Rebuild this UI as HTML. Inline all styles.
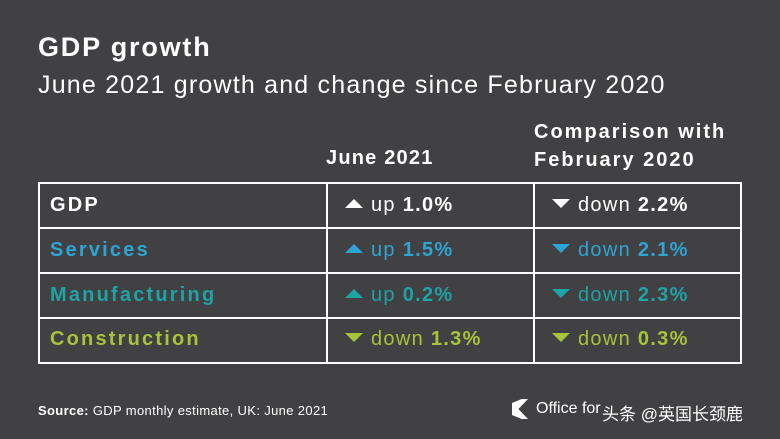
<!DOCTYPE html>
<html><head><meta charset="utf-8"><style>
body{margin:0;width:780px;height:439px;background:#414042;position:relative;overflow:hidden;font-family:"Liberation Sans","Noto Sans CJK SC",sans-serif;color:#fff}
.a{position:absolute;white-space:nowrap}
.t{font-weight:bold}
.l{position:absolute;background:#fff}
.c{font-size:20px}
.lab{letter-spacing:2.2px}
.v{letter-spacing:1.3px}
.b{font-weight:bold}
.w{color:#fff}.s{color:#2ea4d4}.m{color:#1ea3a6}.k{color:#a6c33b}
.tri{display:inline-block;width:0;height:0;border-left:9px solid transparent;border-right:9px solid transparent;margin-right:8px;vertical-align:middle;position:relative;top:-2px}
.up{border-bottom:9px solid currentColor}
.dn{border-top:9px solid currentColor}
</style></head><body>
<div class="a t" style="left:38px;top:32px;font-size:27px;letter-spacing:1.8px">GDP growth</div>
<div class="a" style="left:38px;top:71px;font-size:25px;letter-spacing:1.2px">June 2021 growth and change since February 2020</div>
<div class="a t" style="left:326px;top:147px;font-size:20px;letter-spacing:1.2px">June 2021</div>
<div class="a t" style="left:534px;top:118px;font-size:20px;line-height:28px;letter-spacing:2px">Comparison with<br>February 2020</div>
<div class="l" style="left:38px;top:182px;width:704px;height:2px"></div>
<div class="l" style="left:38px;top:227px;width:704px;height:2px"></div>
<div class="l" style="left:38px;top:272px;width:704px;height:2px"></div>
<div class="l" style="left:38px;top:317px;width:704px;height:2px"></div>
<div class="l" style="left:38px;top:362px;width:704px;height:2px"></div>
<div class="l" style="left:38px;top:182px;width:2px;height:182px"></div>
<div class="l" style="left:326px;top:182px;width:2px;height:182px"></div>
<div class="l" style="left:533px;top:182px;width:2px;height:182px"></div>
<div class="l" style="left:740px;top:182px;width:2px;height:182px"></div>

<div class="a c b w lab" style="left:50px;top:194px">GDP</div>
<div class="a c b s lab" style="left:50px;top:239px">Services</div>
<div class="a c b m lab" style="left:50px;top:284px">Manufacturing</div>
<div class="a c b k lab" style="left:50px;top:328px">Construction</div>

<div class="a c w v" style="left:345px;top:194px"><span class="tri up"></span>up <b>1.0%</b></div>
<div class="a c s v" style="left:345px;top:239px"><span class="tri up"></span>up <b>1.5%</b></div>
<div class="a c m v" style="left:345px;top:284px"><span class="tri up"></span>up <b>0.2%</b></div>
<div class="a c k v" style="left:345px;top:328px"><span class="tri dn"></span>down <b>1.3%</b></div>

<div class="a c w v" style="left:552px;top:194px"><span class="tri dn"></span>down <b>2.2%</b></div>
<div class="a c s v" style="left:552px;top:239px"><span class="tri dn"></span>down <b>2.1%</b></div>
<div class="a c m v" style="left:552px;top:284px"><span class="tri dn"></span>down <b>2.3%</b></div>
<div class="a c k v" style="left:552px;top:328px"><span class="tri dn"></span>down <b>0.3%</b></div>

<div class="a" style="left:38px;top:403px;font-size:13px;letter-spacing:0.35px"><b>Source:</b> GDP monthly estimate, UK: June 2021</div>
<div class="a" style="left:512px;top:399px;width:16px;height:20px;background:#fff;clip-path:polygon(0 20%,60% 0,100% 0,40% 50%,100% 100%,60% 100%,0 80%)"></div>
<div class="a" style="left:536px;top:400px;font-size:16px">Office for</div>
<div class="a" style="left:602px;top:400px;font-size:17px">头条 @英国长颈鹿</div>
</body></html>
